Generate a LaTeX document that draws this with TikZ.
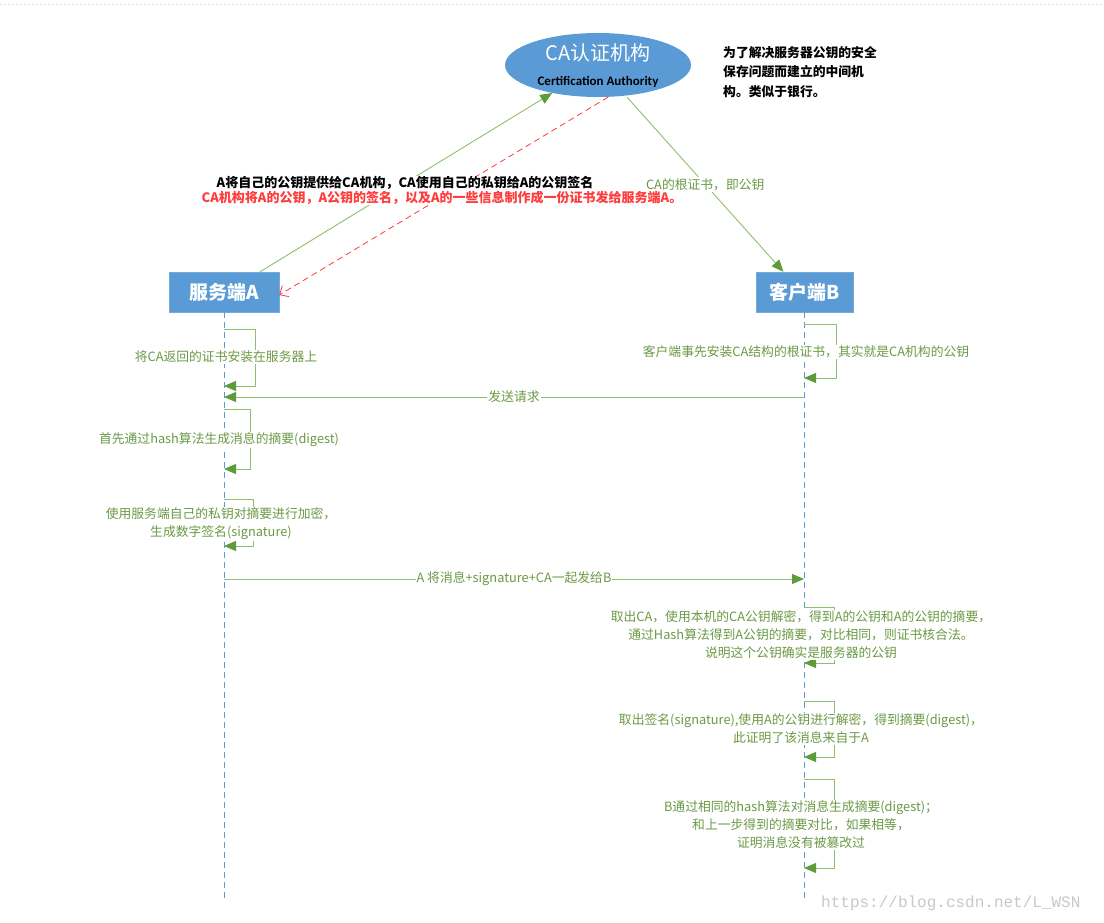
\documentclass[tikz,border=0pt]{standalone}
\usepackage{fontspec}
\setmainfont{Noto Sans CJK SC}
\newfontfamily\lat{Carlito}
\newfontfamily\mono{Liberation Mono}
\usetikzlibrary{arrows.meta,shapes.geometric}
\definecolor{boxblue}{HTML}{5B9BD5}
\definecolor{lgreen}{HTML}{8FBF6E}
\definecolor{dgreen}{HTML}{5E9B3A}
\definecolor{tgreen}{HTML}{6B9A45}
\definecolor{cared}{HTML}{FF3B3B}
\definecolor{wm}{HTML}{C8C8C8}
\definecolor{topline}{HTML}{E4E4E4}
\begin{document}
\begin{tikzpicture}[x=1pt,y=-1pt,
  gtip/.style={-{Triangle[length=12pt,width=10pt,color=dgreen]}},
  msg/.style={draw=lgreen,line width=0.9pt,gtip},
  lifeline/.style={draw=boxblue,dash pattern=on 6pt off 4pt,line width=0.8pt},
  actor/.style={rectangle,fill=boxblue,draw=boxblue!85!white,minimum width=110pt,minimum height=40pt,text=white,font=\fontsize{19}{22}\selectfont\bfseries,inner sep=0pt},
  glabel/.style={fill=white,text=tgreen,font=\fontsize{12.8}{18}\selectfont,inner sep=1pt,align=center},
  blabel/.style={fill=white,inner sep=0.5pt,font=\fontsize{13}{14}\selectfont\bfseries},
]
\useasboundingbox (0,0) rectangle (1104,922);
\fill[white] (0,0) rectangle (1104,922);
\draw[topline,dash pattern=on 2pt off 2pt,line width=0.8pt] (0,4) -- (1104,4);

% actors
\node[ellipse,fill=boxblue,minimum width=186pt,minimum height=64pt,inner sep=0pt] (CA) at (598,65) {};
\node[text=white,font=\fontsize{20}{24}\selectfont,inner sep=0pt] (catitle) at (598,53) {CA认证机构};
\node[font=\lat\bfseries\fontsize{13}{15}\selectfont,inner sep=0pt] (casub) at (598,82) {Certification Authority};
\node[anchor=west,align=left,inner sep=0pt,font=\bfseries\fontsize{12.8}{19}\selectfont] (note) at (723,72.5) {为了解决服务器公钥的安全\\保存问题而建立的中间机\\[1pt]构。类似于银行。};

\node[actor] (A) at (224,292) {服务端A};
\node[actor,minimum width=97pt] (B) at (804.5,292) {客户端B};

% lifelines
\coordinate (Aend) at (224,900);
\coordinate (Bend) at (804,900);
\draw[lifeline] (A.south) -- (Aend);
\draw[lifeline] ([xshift=-0.5pt]B.south) -- (Bend);

% CA exchanges
\draw[msg] ([xshift=36pt]A.north) -- (CA);
\draw[cared,dash pattern=on 6pt off 4pt,line width=0.8pt,-{Straight Barb[length=7pt,width=13pt]}] ([xshift=10pt]CA.south) -- ([yshift=-3pt]A.east);
\draw[msg] ([xshift=29pt]CA.south) -- ([xshift=-21pt]B.north) node[glabel,pos=0.5] (rootlab) {CA的根证书，即公钥};
\node[blabel] (lab1) at (405,183) {A将自己的公钥提供给CA机构，CA使用自己的私钥给A的公钥签名};
\node[blabel,text=cared] (lab2) at (442,197.5) {CA机构将A的公钥，A公钥的签名，以及A的一些信息制作成一份证书发给服务端A。};

% coordinates on lifelines
\coordinate (a1) at (224,329); \coordinate (a1r) at (224,386);
\coordinate (b1) at (804,324); \coordinate (b1r) at (804,378);
\coordinate (b2) at (804,397); \coordinate (a2) at (224,397);
\coordinate (a3) at (224,409); \coordinate (a3r) at (224,469);
\coordinate (a4) at (224,499); \coordinate (a4r) at (224,546);
\coordinate (a5) at (224,579); \coordinate (b5) at (804,579);
\coordinate (b6) at (804,607); \coordinate (b6r) at (804,663);
\coordinate (b7) at (804,701); \coordinate (b7r) at (804,757);
\coordinate (b8) at (804,779); \coordinate (b8r) at (804,868);

\draw[msg] (a1) -- ++(31,0) |- (a1r);
\node[glabel] (t1) at (226,357) {将CA返回的证书安装在服务器上};

\draw[msg] (b1) -- ++(32,0) |- (b1r);
\node[glabel] (t2) at (806,352) {客户端事先安装CA结构的根证书，其实就是CA机构的公钥};

\draw[msg] (b2) -- (a2) node[glabel,midway] (t3) {发送请求};

\draw[msg] (a3) -- ++(26,0) |- (a3r);
\node[glabel] (t4) at (219,440) {首先通过hash算法生成消息的摘要(digest)};

\draw[msg] (a4) -- ++(29,0) |- (a4r);
\node[glabel] (t5) at (221,524) {使用服务端自己的私钥对摘要进行加密，\\生成数字签名(signature)};

\draw[msg] (a5) -- (b5) node[glabel,midway] (t6) {A 将消息+signature+CA一起发给B};

\draw[msg] (b6) -- ++(30,0) |- (b6r);
\node[glabel] (t7) at (801,635) {取出CA，使用本机的CA公钥解密，得到A的公钥和A的公钥的摘要，\\通过Hash算法得到A公钥的摘要，对比相同，则证书核合法。\\说明这个公钥确实是服务器的公钥};

\draw[msg] (b7) -- ++(30,0) |- (b7r);
\node[glabel] (t8) at (801,728.5) {取出签名(signature),使用A的公钥进行解密，得到摘要(digest)，\\此证明了该消息来自于A};

\draw[msg] (b8) -- ++(30,0) |- (b8r);
\node[glabel] (t9) at (801,825) {B通过相同的hash算法对消息生成摘要(digest)；\\和上一步得到的摘要对比，如果相等，\\证明消息没有被篡改过};

\node[anchor=west,text=wm,inner sep=0pt,font=\mono\fontsize{16}{18}\selectfont] (wmark) at (821,903) {https://blog.csdn.net/L\_WSN};
\end{tikzpicture}
\end{document}
